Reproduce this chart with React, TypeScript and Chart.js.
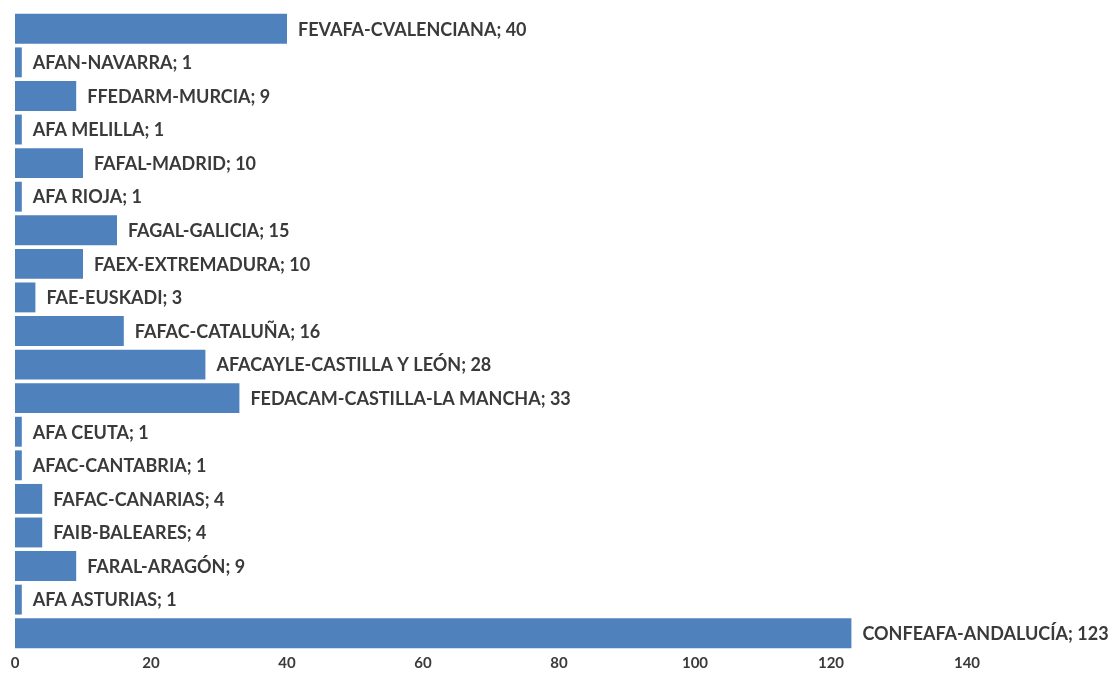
import React, { useEffect, useRef } from "react";
import { Chart, registerables } from "chart.js";

Chart.register(...registerables);

const categories: string[] = [
  "FEVAFA-CVALENCIANA",
  "AFAN-NAVARRA",
  "FFEDARM-MURCIA",
  "AFA MELILLA",
  "FAFAL-MADRID",
  "AFA RIOJA",
  "FAGAL-GALICIA",
  "FAEX-EXTREMADURA",
  "FAE-EUSKADI",
  "FAFAC-CATALUÑA",
  "AFACAYLE-CASTILLA Y LEÓN",
  "FEDACAM-CASTILLA-LA MANCHA",
  "AFA CEUTA",
  "AFAC-CANTABRIA",
  "FAFAC-CANARIAS",
  "FAIB-BALEARES",
  "FARAL-ARAGÓN",
  "AFA ASTURIAS",
  "CONFEAFA-ANDALUCÍA",
];

const values: number[] = [40, 1, 9, 1, 10, 1, 15, 10, 3, 16, 28, 33, 1, 1, 4, 4, 9, 1, 123];

const xTicksShown: number[] = [0, 20, 40, 60, 80, 100, 120, 140];

const TEXT_COLOR = "#3a3a3a";
const BAR_COLOR = "#4F81BD";
const FONT_FAMILY = "Lato, 'Open Sans', sans-serif";

const labelPlugin = {
  id: "barLabels",
  afterDatasetsDraw(chart: any) {
    const ctx = chart.ctx;
    const meta = chart.getDatasetMeta(0);
    ctx.save();
    ctx.font = `bold 18px ${FONT_FAMILY}`;
    ctx.fillStyle = TEXT_COLOR;
    ctx.textBaseline = "middle";
    ctx.textAlign = "left";
    meta.data.forEach((bar: any, i: number) => {
      const text = `${categories[i]}; ${values[i]}`;
      ctx.fillText(text, bar.x + 11, bar.y + 1);
    });
    ctx.restore();
  },
};

export default function App() {
  const canvasRef = useRef<HTMLCanvasElement | null>(null);

  useEffect(() => {
    if (!canvasRef.current) return;
    const chart = new Chart(canvasRef.current, {
      type: "bar",
      data: {
        labels: categories,
        datasets: [
          {
            data: values,
            backgroundColor: BAR_COLOR,
            borderWidth: 0,
            barPercentage: 0.89,
            categoryPercentage: 1,
          },
        ],
      },
      options: {
        indexAxis: "y",
        animation: false,
        responsive: false,
        maintainAspectRatio: false,
        layout: { padding: { left: 15, right: 10, top: 12, bottom: 0 } },
        plugins: {
          legend: { display: false },
          tooltip: { enabled: false },
        },
        scales: {
          y: {
            display: false,
          },
          x: {
            min: 0,
            max: 160,
            grid: { display: false, drawTicks: false },
            border: { display: false },
            ticks: {
              stepSize: 20,
              padding: 4,
              color: TEXT_COLOR,
              font: { family: FONT_FAMILY, size: 15, weight: "bold" },
              callback: (v: any) => (xTicksShown.includes(Number(v)) ? String(v) : ""),
              maxRotation: 0,
            },
            afterFit: (scale: any) => {
              scale.height = 31;
            },
          },
        },
      },
      plugins: [labelPlugin],
    });
    return () => chart.destroy();
  }, []);

  return (
    <div style={{ position: "fixed", left: 0, top: 0, width: 1113, height: 681, background: "#fff" }}>
      <canvas ref={canvasRef} width={1113} height={681} style={{ display: "block" }} />
    </div>
  );
}
